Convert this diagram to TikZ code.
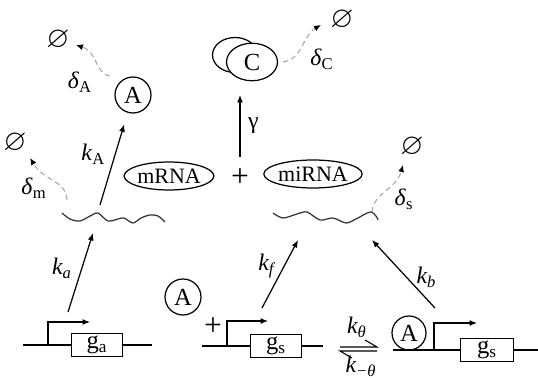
\documentclass[tikz,border=0pt]{standalone}
\usepackage{amssymb}
\usepackage{fontspec}
\setmainfont{Liberation Serif}
\usetikzlibrary{shapes, positioning, arrows.meta}

\begin{document}
\begin{tikzpicture}[
        x=0.02cm, y=-0.02cm,
        font=\fontsize{12}{14}\selectfont,
        % Style for the protein circles
        species/.style={
            circle, draw=black, line width=0.7pt,
            minimum size=0.72cm, inner sep=0pt,
            font=\fontsize{14}{14}\selectfont
        },
        % Style for the complex (two stacked ellipses)
        complexShell/.style={
            ellipse, draw=black, line width=0.7pt, fill=white, inner sep=0pt,
            font=\fontsize{14}{14}\selectfont
        },
        % Style for the RNA labels
        rnaLabel/.style={
            ellipse, draw=black, line width=0.7pt,
            minimum width=1.58cm, minimum height=0.56cm, inner sep=0pt,
            font=\fontsize{12.5}{13}\selectfont
        },
        % Style for the gene boxes
        geneBox/.style={
            rectangle, draw=black, fill=white, line width=0.7pt,
            minimum width=1.02cm, minimum height=0.47cm, inner sep=0pt,
            font=\fontsize{14}{14}\selectfont
        },
        rate/.style={font=\fontsize{13.5}{14}\selectfont},
        sink/.style={font=\fontsize{17}{17}\selectfont, inner sep=1pt},
        line/.style={draw, line width=0.7pt, -{Latex[length=1.5mm, width=1.2mm]}},
        decay/.style={draw=gray!70, densely dashed, line width=0.6pt,
            -{Latex[length=1.4mm, width=1.2mm, black]}},
        dna/.style={draw, line width=0.7pt},
        wave/.style={draw=black!80, line width=0.7pt},
        halfArrow/.style={draw, line width=0.6pt},
        bigPlus/.style={font=\fontsize{18}{18}\selectfont, inner sep=0pt}
    ]
    \useasboundingbox (0,0) rectangle (538,378);

        % --- Nodes ---

        % Degradation sinks
        \node [sink] (nullA) at (58,40) {$\varnothing$};
        \node [sink] (nullM) at (15,143) {$\varnothing$};
        \node [sink] (nullC) at (342,20) {$\varnothing$};
        \node [sink] (nullS) at (412,147) {$\varnothing$};

        % Protein A and complex C
        \node [species] (protA) at (133,95) {A};
        \node [complexShell, minimum width=0.9cm, minimum height=0.7cm] (cBack) at (235,55) {};
        \node [complexShell, minimum width=1.02cm, minimum height=0.75cm] (cFront) at (252,62) {C};

        % RNA species
        \node [rnaLabel] (mrna) at (169,176) {mRNA};
        \node [bigPlus] (plus) at (240,178) {+};
        \node [rnaLabel, minimum width=1.62cm] (mirna) at (313,174) {miRNA};

        % mRNA and miRNA strands
        \draw [wave] plot [smooth, tension=0.5] coordinates {(62,213) (70,219) (80,221) (92,215) (98,213) (108,221) (118,219) (124,218) (133,223) (141,218) (150,215) (158,216) (165,222)};
        \draw [wave] plot [smooth, tension=0.5] coordinates {(273,213) (283,218) (297,214) (307,212) (320,220) (333,218) (346,223) (356,219) (370,212) (376,216) (378,220)};

        % Gene g_a
        \draw [dna] (23,345) -- (152,345);
        \node [geneBox] (geneA) at (97,345) {g\textsubscript{a}};
        \coordinate (promA) at (48,345);
        \draw [line] (promA) |- (90,322);

        % Gene g_s, free promoter
        \node [species] (freeA) at (183,297) {A};
        \node [bigPlus] (plusA) at (213,327) {+};
        \draw [dna] (202,346) -- (323,346);
        \node [geneBox] (geneS) at (276,346) {g\textsubscript{s}};
        \coordinate (promS) at (227,346);
        \draw [line] (promS) |- (268,321);

        % Gene g_s, promoter bound by A
        \draw [dna] (393,350) -- (538,350);
        \node [species, minimum size=0.68cm] (boundA) at (409,333) {A};
        \node [geneBox, minimum width=1.06cm] (geneB) at (487,350) {g\textsubscript{s}};
        \coordinate (promB) at (434,350);
        \draw [line] (promB) |- (477,323);

        % Arrow end points
        \coordinate (mWaveTop) at (100,205);
        \coordinate (mWaveBot) at (93,233);
        \coordinate (geneATop) at (68,312);
        \coordinate (sWaveBotL) at (298,240);
        \coordinate (geneSTop) at (262,308);
        \coordinate (sWaveBotR) at (372,240);
        \coordinate (geneBTop) at (435,308);
        \coordinate (plusTop) at (240,157);
        \coordinate (cBottom) at (240,95);

        % --- Edges ---

        % Transcription
        \path [line] (geneATop) -- node[rate, left, pos=0.55, xshift=-2pt] {\textit{k\textsubscript{a}}} (mWaveBot);
        \path [line] (geneSTop) -- node[rate, left, pos=0.62, xshift=-2pt] {\textit{k\textsubscript{f}}} (sWaveBotL);
        \path [line] (geneBTop) -- node[rate, right, pos=0.45, xshift=2pt] {\textit{k\textsubscript{b}}} (sWaveBotR);

        % Translation
        \path [line, shorten >=0.24cm] (mWaveTop) -- node[rate, left, pos=0.55, xshift=-2pt] {\textit{k}\textsubscript{A}} (protA);

        % Complex formation
        \path [line] (plusTop) -- node[rate, right, xshift=1pt] {γ} (cBottom);

        % Binding of A to the promoter
        \coordinate (onL) at (340,347);
        \coordinate (onR) at (377,347);
        \coordinate (offR) at (377,351);
        \coordinate (offL) at (340,351);
        \path [halfArrow] (onL) -- (onR) -- (365,340);
        \path [halfArrow] (offR) -- (offL) -- (352,358);
        \node [rate] (kOn) at (357,327) {\textit{k\textsubscript{θ}}};
        \node [rate] (kOff) at (361,366) {\textit{k\textsubscript{−θ}}};

        % Degradation
        \coordinate (decA) at (110,76);
        \coordinate (decM) at (67,200);
        \coordinate (decC) at (283,62);
        \coordinate (decS) at (372,212);
        \path [decay] (decA) .. controls (95,74) and (98,52) .. (76,45);
        \path [decay] (decM) .. controls (66,180) and (45,182) .. (30,158);
        \path [decay] (decC) .. controls (302,60) and (303,35) .. (321,25);
        \path [decay] (decS) .. controls (374,192) and (396,190) .. (403,165);
        \node [rate] (dA) at (80,82) {\textit{δ}\textsubscript{A}};
        \node [rate] (dM) at (34,188) {\textit{δ}\textsubscript{m}};
        \node [rate] (dC) at (322,59) {\textit{δ}\textsubscript{C}};
        \node [rate] (dS) at (404,199) {\textit{δ}\textsubscript{s}};

    \end{tikzpicture}
\end{document}
